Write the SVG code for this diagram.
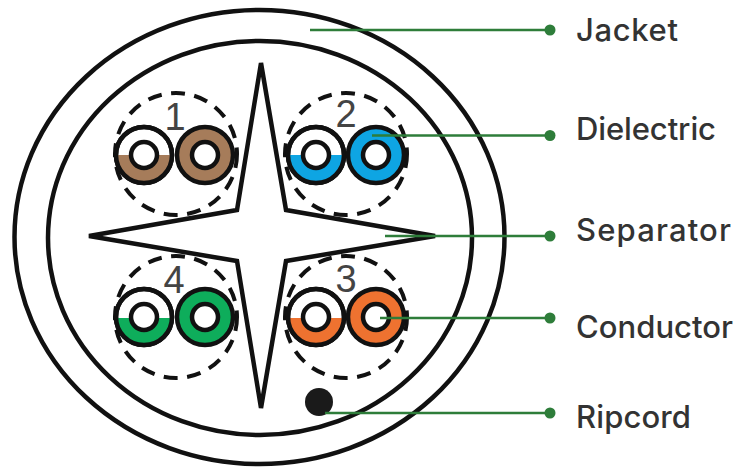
<svg xmlns="http://www.w3.org/2000/svg" width="744" height="467" viewBox="0 0 744 467">
<style>
.o{fill:none;stroke:#111;stroke-width:4.500}
.d{fill:none;stroke:#111;stroke-width:4;stroke-dasharray:14 9.500}
.c{fill:#fff;stroke:#111;stroke-width:4.500}
.l{stroke:#2e7d3a;stroke-width:2.500;fill:none}
.p{fill:#2e7d3a}
.t{font-family:"Inter","Open Sans",sans-serif;font-size:31px;fill:#333;font-weight:500}
.n{font-family:"Liberation Sans",sans-serif;font-size:38px;fill:#444;text-anchor:middle}
</style>
<rect width="744" height="467" fill="#fff"/>
<g id="jacket"><ellipse class="o" cx="259.500" cy="237" rx="245" ry="227"/></g>
<g id="inner"><ellipse class="o" cx="260" cy="238" rx="212" ry="197"/></g>
<g id="separator"><polygon points="261,63 286,210 435,236 286,261 261,408 237,261 89,236 237,210" fill="#fff" stroke="#111" stroke-width="4.500"/></g>
<g id="pair1"><circle class="d" cx="176" cy="154" r="61"/><text class="n" x="175" y="130">1</text>
<circle class="c" cx="144" cy="155" r="28"/><path d="M116.500 155H171.500A27.500 27.500 0 0 1 116.500 155Z" fill="#a67c5a"/><circle class="o" cx="144" cy="155" r="28"/><circle class="c" cx="144" cy="155" r="13"/>
<circle class="c" cx="205" cy="155" r="28" style="fill:#a67c5a"/><circle class="c" cx="205" cy="155" r="13"/></g>
<g id="pair2"><circle class="d" cx="346" cy="154" r="61"/><text class="n" x="346" y="127">2</text>
<circle class="c" cx="316" cy="155" r="28"/><path d="M288.500 155H343.500A27.500 27.500 0 0 1 288.500 155Z" fill="#0ea5e3"/><circle class="o" cx="316" cy="155" r="28"/><circle class="c" cx="316" cy="155" r="13"/>
<circle class="c" cx="376" cy="155" r="28" style="fill:#0ea5e3"/><circle class="c" cx="376" cy="155" r="13"/></g>
<g id="pair3"><circle class="d" cx="346" cy="317" r="61"/><text class="n" x="346" y="292">3</text>
<circle class="c" cx="316" cy="317" r="28"/><path d="M288.500 318H343.500A27.500 27.500 0 0 1 288.500 318Z" fill="#ee7230"/><circle class="o" cx="316" cy="317" r="28"/><circle class="c" cx="316" cy="317" r="13"/>
<circle class="c" cx="376" cy="317" r="28" style="fill:#ee7230"/><circle class="c" cx="376" cy="317" r="13"/></g>
<g id="pair4"><circle class="d" cx="176" cy="317" r="61"/><text class="n" x="174" y="293">4</text>
<circle class="c" cx="144" cy="317" r="28"/><path d="M116.500 318H171.500A27.500 27.500 0 0 1 116.500 318Z" fill="#0ead5b"/><circle class="o" cx="144" cy="317" r="28"/><circle class="c" cx="144" cy="317" r="13"/>
<circle class="c" cx="205" cy="317" r="28" style="fill:#0ead5b"/><circle class="c" cx="205" cy="317" r="13"/></g>
<g id="ripcord"><circle cx="319" cy="402" r="14" fill="#1a1a1a"/></g>
<g id="connectors">
<path class="l" d="M310 30H550"/><circle class="p" cx="550" cy="30" r="5.500"/>
<path class="l" d="M372 135.500H550"/><circle class="p" cx="550" cy="135.500" r="5.500"/>
<path class="l" d="M385 236H550"/><circle class="p" cx="550" cy="236" r="5.500"/>
<path class="l" d="M380 318H550"/><circle class="p" cx="550" cy="318" r="5.500"/>
<path class="l" d="M325 413H550"/><circle class="p" cx="550" cy="413" r="5.500"/>
</g>
<g id="labels">
<text class="t" x="576" y="41" textLength="102">Jacket</text>
<text class="t" x="576" y="140" textLength="140">Dielectric</text>
<text class="t" x="576" y="241" textLength="155">Separator</text>
<text class="t" x="576" y="338" textLength="157">Conductor</text>
<text class="t" x="576" y="428" textLength="115">Ripcord</text>
</g>
</svg>
